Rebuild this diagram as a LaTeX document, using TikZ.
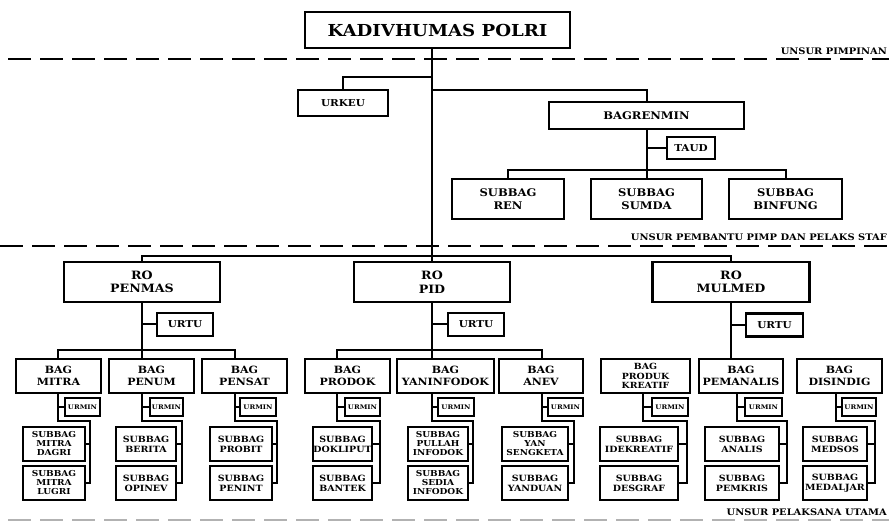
\documentclass[tikz,border=0pt]{standalone}
\usepackage{fontspec}
\setmainfont{DejaVu Serif}[FakeStretch=1.1]
\usetikzlibrary{shadows}
\tikzset{
  box/.style={draw, line width=2.3pt, fill=white, align=center, inner sep=0pt, outer sep=0pt,
     drop shadow={shadow xshift=1.2pt, shadow yshift=-1.2pt, opacity=0.3, fill=black}},
  conn/.style={line width=2pt},
  sep/.style={line width=2.8pt, dash pattern=on 23pt off 9pt},
  lab/.style={anchor=east, inner sep=0pt, font=\fontsize{9}{10}\selectfont\bfseries},
  fK/.style={font=\fontsize{16.5}{18}\selectfont\bfseries},
  fRO/.style={font=\fontsize{11.5}{13.5}\selectfont\bfseries},
  fR2/.style={font=\fontsize{10.5}{12.5}\selectfont\bfseries},
  fU/.style={font=\fontsize{9.5}{10}\selectfont\bfseries},
  fB/.style={font=\fontsize{10}{11.5}\selectfont\bfseries},
  fB3/.style={font=\fontsize{8.5}{9.3}\selectfont\bfseries},
  fS/.style={font=\fontsize{8.6}{10}\selectfont\bfseries},
  fS3/.style={font=\fontsize{8.2}{9}\selectfont\bfseries},
  fM/.style={font=\fontsize{6.3}{7}\selectfont\bfseries},
}
\newcommand\mybox[7]{\node[box,#6,minimum width=#4pt,minimum height=#5pt] (#1) at (#2,#3) {#7};}
\newcommand\mygrp[7]{%
  \coordinate (v#1) at (#2,421);
  \coordinate (e#1) at (#3,483);
  \draw[conn] (#4.south -| v#1) -- (v#1) -| (e#1) -- (#7.east);
  \draw[conn] (#5.west) -- (#5.west -| v#1);
  \draw[conn] (#6.east) -- (#6.east -| e#1);
}
\begin{document}
\begin{tikzpicture}[x=1pt,y=-1pt]
\useasboundingbox (0,0) rectangle (889,521);
\clip (0,0) rectangle (889,521);
\fill[white] (0,0) rectangle (889,521);

% separators
\coordinate (s1a) at (8,59); \coordinate (s1b) at (889,59);
\coordinate (s2a) at (0,246); \coordinate (s2b) at (889,246);
\coordinate (s3a) at (8,520); \coordinate (s3b) at (889,520);
\draw[sep] (s1a) -- (s1b);
\draw[sep] (s2a) -- (s2b);
\draw[sep, draw=black!30] (s3a) -- (s3b);
\node[lab] (l1) at (887,51) {UNSUR PIMPINAN};
\node[lab] (l2) at (887,237) {UNSUR PEMBANTU PIMP DAN PELAKS STAF};
\node[lab] (l3) at (887,512) {UNSUR PELAKSANA UTAMA};

% top level
\mybox{kadiv}{437.5}{30}{265}{36}{fK}{KADIVHUMAS POLRI}
\mybox{urkeu}{343}{103}{90}{26}{fU}{URKEU}
\mybox{bagrenmin}{646.5}{115.5}{195}{27}{fR2}{BAGRENMIN}
\mybox{taud}{691}{148}{48}{22}{fU}{TAUD}
\mybox{ren}{508}{199}{112}{40}{fR2}{SUBBAG\\REN}
\mybox{sumda}{646.5}{199}{111}{40}{fR2}{SUBBAG\\SUMDA}
\mybox{binfung}{785.5}{199}{113}{40}{fR2}{SUBBAG\\BINFUNG}

% RO level
\mybox{ropenmas}{142}{282}{156}{40}{fRO}{RO\\PENMAS}
\mybox{ropid}{432}{282}{156}{40}{fRO}{RO\\PID}
\mybox{romulmed}{731}{282}{157}{40}{fRO}{RO\\MULMED}
\mybox{urtuA}{185}{324.5}{56}{23}{fU}{URTU}
\mybox{urtuB}{476}{324.5}{56}{23}{fU}{URTU}
\mybox{urtuC}{774.5}{325}{57}{23}{fU}{URTU}

% BAG level
\mybox{bagA}{58.5}{376}{85}{34}{fB}{BAG\\MITRA}
\mybox{bagB}{151.5}{376}{85}{34}{fB}{BAG\\PENUM}
\mybox{bagC}{244.5}{376}{85}{34}{fB}{BAG\\PENSAT}
\mybox{bagD}{347.5}{376}{85}{34}{fB}{BAG\\PRODOK}
\mybox{bagE}{445.5}{376}{97}{34}{fB}{BAG\\YANINFODOK}
\mybox{bagF}{541}{376}{84}{34}{fB}{BAG\\ANEV}
\mybox{bagG}{645.5}{376}{89}{34}{fB3}{BAG\\PRODUK\\KREATIF}
\mybox{bagH}{741}{376}{84}{34}{fB}{BAG\\PEMANALIS}
\mybox{bagI}{839.5}{376}{85}{34}{fB}{BAG\\DISINDIG}

% URMIN
\mybox{umA}{82.5}{407}{35}{18}{fM}{URMIN}
\mybox{umB}{166.5}{407}{33}{18}{fM}{URMIN}
\mybox{umC}{258}{407}{36}{18}{fM}{URMIN}
\mybox{umD}{362.5}{407}{35}{18}{fM}{URMIN}
\mybox{umE}{456}{407}{36}{18}{fM}{URMIN}
\mybox{umF}{565.5}{407}{35}{18}{fM}{URMIN}
\mybox{umG}{670}{407}{36}{18}{fM}{URMIN}
\mybox{umH}{763.5}{407}{37}{18}{fM}{URMIN}
\mybox{umI}{859}{407}{34}{18}{fM}{URMIN}

% SUBBAG
\mybox{sA1}{54}{444}{62}{34}{fS3}{SUBBAG\\MITRA\\DAGRI}
\mybox{sA2}{54}{483}{62}{34}{fS3}{SUBBAG\\MITRA\\LUGRI}
\mybox{sB1}{146}{444}{60}{34}{fS}{SUBBAG\\BERITA}
\mybox{sB2}{146}{483}{60}{34}{fS}{SUBBAG\\OPINEV}
\mybox{sC1}{241}{444}{62}{34}{fS}{SUBBAG\\PROBIT}
\mybox{sC2}{241}{483}{62}{34}{fS}{SUBBAG\\PENINT}
\mybox{sD1}{342.5}{444}{59}{34}{fS}{SUBBAG\\DOKLIPUT}
\mybox{sD2}{342.5}{483}{59}{34}{fS}{SUBBAG\\BANTEK}
\mybox{sE1}{438}{444}{60}{34}{fS3}{SUBBAG\\PULLAH\\INFODOK}
\mybox{sE2}{438}{483}{60}{34}{fS3}{SUBBAG\\SEDIA\\INFODOK}
\mybox{sF1}{535}{444}{66}{34}{fS3}{SUBBAG\\YAN\\SENGKETA}
\mybox{sF2}{535}{483}{66}{34}{fS}{SUBBAG\\YANDUAN}
\mybox{sG1}{639}{444}{78}{34}{fS}{SUBBAG\\IDEKREATIF}
\mybox{sG2}{639}{483}{78}{34}{fS}{SUBBAG\\DESGRAF}
\mybox{sH1}{742}{444}{74}{34}{fS}{SUBBAG\\ANALIS}
\mybox{sH2}{742}{483}{74}{34}{fS}{SUBBAG\\PEMKRIS}
\mybox{sI1}{835}{444}{64}{34}{fS}{SUBBAG\\MEDSOS}
\mybox{sI2}{835}{483}{64}{34}{fS}{SUBBAG\\MEDALJAR}

% group connectors
\mygrp{A}{58}{90}{bagA}{umA}{sA1}{sA2}
\mygrp{B}{142}{182}{bagB}{umB}{sB1}{sB2}
\mygrp{C}{235}{277}{bagC}{umC}{sC1}{sC2}
\mygrp{D}{337}{380}{bagD}{umD}{sD1}{sD2}
\mygrp{E}{432}{473}{bagE}{umE}{sE1}{sE2}
\mygrp{F}{542}{574}{bagF}{umF}{sF1}{sF2}
\mygrp{G}{643}{687}{bagG}{umG}{sG1}{sG2}
\mygrp{H}{737}{787}{bagH}{umH}{sH1}{sH2}
\mygrp{I}{836}{875}{bagI}{umI}{sI1}{sI2}

% top connectors
\draw[conn] (kadiv.south -| ropid.north) -- (ropid.north);
\coordinate (jU) at (432,77);
\coordinate (jB) at (432,90);
\draw[conn] (jU) -| (urkeu.north);
\draw[conn] (jB) -| (bagrenmin.north);
\draw[conn] (bagrenmin.south) -- (sumda.north);
\draw[conn] (taud.west) -- (taud.west -| bagrenmin.south);
\coordinate (jS) at (646.5,170);
\draw[conn] (ren.north) |- (jS) -| (binfung.north);
\coordinate (jR) at (432,256);
\draw[conn] (ropenmas.north) |- (jR) -| (romulmed.north);

% RO to BAG
\coordinate (busY) at (0,350);
\draw[conn] (ropenmas.south) -- (ropenmas.south |- bagB.north);
\draw[conn] (urtuA.west) -- (urtuA.west -| ropenmas.south);
\draw[conn] (bagA.north -| vA) |- (busY -| vC) -- (bagC.north -| vC);
\draw[conn] (ropid.south) -- (ropid.south |- bagE.north);
\draw[conn] (urtuB.west) -- (urtuB.west -| ropid.south);
\draw[conn] (bagD.north -| vD) |- (busY -| vF) -- (bagF.north -| vF);
\draw[conn] (romulmed.south) -- (romulmed.south |- bagH.north);
\draw[conn] (urtuC.west) -- (urtuC.west -| romulmed.south);
\end{tikzpicture}
\end{document}
